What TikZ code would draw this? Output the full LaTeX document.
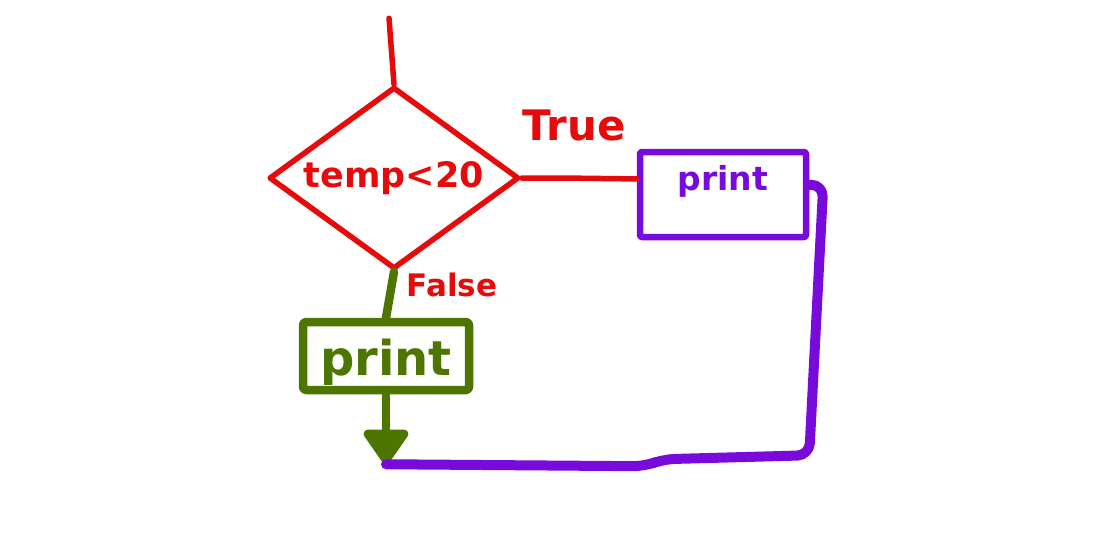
\documentclass[tikz,border=0pt]{standalone}
\usepackage{fontspec}
\setmainfont{DejaVu Sans}
\usetikzlibrary{calc,shapes.geometric,arrows.meta}
\definecolor{penred}{RGB}{230,10,10}
\definecolor{penpurple}{RGB}{120,10,220}
\definecolor{pengreen}{RGB}{76,118,0}

\begin{document}
\begin{tikzpicture}[x=1pt,y=-1pt]
\tikzstyle{decision}=[diamond,draw=penred,text=penred,line width=5.5pt,line join=round,inner sep=0pt,aspect=1.39,minimum width=250pt,minimum height=182pt,font=\bfseries\fontsize{35}{38}\selectfont]
\tikzstyle{truebox}=[rectangle,draw=penpurple,text=penpurple,line width=6.5pt,line join=round,rounded corners=2pt,inner sep=0pt,minimum width=166pt,text height=38pt,text depth=47pt,font=\bfseries\fontsize{33}{36}\selectfont]
\tikzstyle{falsebox}=[rectangle,draw=pengreen,text=pengreen,line width=8.5pt,line join=round,rounded corners=3pt,inner sep=0pt,minimum width=166pt,text height=53pt,text depth=15pt,font=\bfseries\fontsize{48}{50}\selectfont]
\tikzstyle{branch}=[text=penred,inner sep=0pt,font=\bfseries\fontsize{42}{44}\selectfont]
\tikzstyle{redline}=[penred,line width=5.5pt,line cap=round,line join=round]
\tikzstyle{greenline}=[pengreen,line width=8.5pt,line cap=round]
\tikzstyle{purpleline}=[penpurple,line width=10pt,line cap=round,line join=round]

\useasboundingbox (0,0) rectangle (1093,533);

\node (cond) [decision] at (394,178) {temp<20};
\node (pbox) [truebox] at (723,194.5) {print};
\node (gbox) [falsebox] at (386,356) {print};

\path (cond.north) + (-5,-66) coordinate (start);
\path (gbox.south) + (0,70) coordinate (join);
\path (cond.east) + (40,0) coordinate (kink);
\path (pbox.north east) + (0,36) coordinate (pout);
\path (pout) + (14,0) coordinate (pturn);
\path (pbox.south east) + (0,215) coordinate (pcorner);
\path (join) + (277,-5) coordinate (pstep1);
\path (join) + (259,2) coordinate (pstep2);

\draw [redline] (start) -- (cond.north);
\draw [redline] (cond.east) -- (kink) -- ($(pbox.north west)!0.33!(pbox.south west)$);
\draw [greenline] (cond.south) -- (gbox.north);
\draw [greenline, -{Triangle[round,width=50pt,length=38pt]}] (gbox.south) -- (join);
\draw [purpleline, rounded corners=12pt] (pout) -- (pturn) -- (pcorner) -- (pstep1) -- (pstep2) -- (join);

\node (T) [branch] at (574,125) {True};
\node (F) [branch, font=\bfseries\fontsize{31}{34}\selectfont] at (452,285) {False};

\end{tikzpicture}
\end{document}
